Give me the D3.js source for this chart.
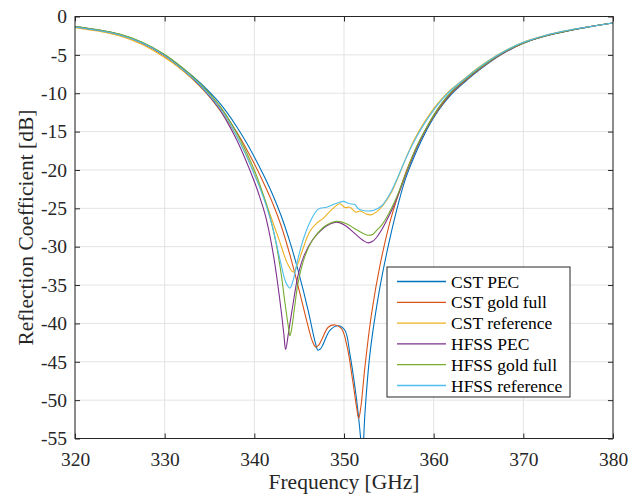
<!DOCTYPE html>
<html>
<head>
<meta charset="utf-8">
<script src="https://cdn.jsdelivr.net/npm/d3@7"></script>
<style>
  html, body { margin: 0; padding: 0; background: #fff; }
  svg { display: block; font-family: "Liberation Serif", "Times New Roman", Times, serif; }
  svg text { font-family: "Liberation Serif", "Times New Roman", Times, serif !important; }
</style>
</head>
<body>
<svg id="chart" width="639" height="496"></svg>
<script>
// Reflection coefficient (dB) vs frequency (GHz), six simulations
const xTicks = [320, 330, 340, 350, 360, 370, 380];
const yTicks = [0, -5, -10, -15, -20, -25, -30, -35, -40, -45, -50, -55];

const cstPecFreq = [320, 322.5, 325, 327.5, 330, 332, 334, 336, 337, 338, 339, 340, 341, 342, 343, 344, 345, 346, 346.5, 346.8, 347.1, 347.4, 347.68, 348.43, 349.35, 350.1, 350.66, 351.22, 351.59, 351.88, 352.05, 352.33, 352.89, 353.81, 354.75, 355.86, 356.79, 357.5, 358.3, 359, 360, 361, 362, 363.5, 365, 367.5, 370, 372.5, 375, 377.5, 380];
const cstPecDb   = [-1.35, -1.75, -2.35, -3.4, -5.0, -6.7, -8.7, -11.1, -12.6, -14.3, -16.2, -18.3, -20.6, -23.1, -26.0, -29.5, -33.6, -38.3, -41.0, -42.5, -43.5, -43.3, -42.7, -40.9, -40.3, -40.9, -44.0, -48.3, -51.8, -55.3, -58.0, -51.8, -44.0, -36.6, -30.9, -25.3, -21.4, -19.2, -17.0, -15.3, -13.2, -11.5, -10.1, -8.5, -7.05, -5.0, -3.5, -2.55, -1.87, -1.32, -0.85];

const cstGoldFreq = [320, 322.5, 325, 327.5, 330, 332, 334, 336, 337, 338, 339, 340, 341, 342, 343, 344, 345, 346, 346.5, 346.87, 347.2, 347.6, 348.24, 348.99, 349.73, 350.36, 350.96, 351.4, 351.63, 351.88, 352.33, 353.07, 354.0, 355.12, 356.0, 357.0, 358, 359, 360, 361, 362, 363.5, 365, 367.5, 370, 372.5, 375, 377.5, 380];
const cstGoldDb   = [-1.4, -1.8, -2.4, -3.5, -5.15, -6.9, -9.0, -11.6, -13.2, -15.0, -17.0, -19.2, -21.6, -24.2, -27.3, -31.2, -35.7, -40.4, -42.4, -43.1, -42.8, -41.9, -40.5, -40.2, -40.7, -43.1, -47.4, -50.9, -52.4, -50.9, -45.7, -38.75, -32.5, -26.8, -23.4, -20.0, -17.3, -15.0, -13.0, -11.35, -9.95, -8.4, -6.95, -4.95, -3.48, -2.52, -1.85, -1.3, -0.85];

const cstRefFreq = [320, 322.5, 325, 327.5, 330, 331.5, 333.2, 334.7, 336.2, 337.5, 338.5, 339.4, 340.2, 341, 341.7, 342.3, 342.85, 343.3, 343.78, 344.34, 344.8, 345.3, 346.2, 347.0, 347.68, 348.6, 349.54, 350.1, 350.66, 351.3, 351.8, 352.5, 353.0, 353.6, 354.3, 355.3, 356.2, 357, 357.9, 359, 360, 361, 362, 363.5, 365, 367.5, 370, 372.5, 375, 377.5, 380];
const cstRefDb   = [-1.45, -1.9, -2.55, -3.65, -5.35, -6.6, -8.3, -10.1, -12.3, -14.5, -16.6, -18.8, -21.0, -23.3, -25.6, -27.6, -29.4, -31.0, -32.4, -33.3, -32.4, -30.7, -28.0, -26.9, -26.3, -25.2, -24.4, -24.9, -24.85, -25.5, -25.35, -25.75, -25.85, -25.5, -24.7, -22.9, -20.5, -18.2, -15.9, -13.7, -12.0, -10.6, -9.45, -8.05, -6.65, -4.75, -3.35, -2.45, -1.8, -1.3, -0.85];

const hfssPecFreq = [320, 322.5, 325, 327.5, 330, 332, 334, 335, 336, 337, 338, 339, 340, 340.6, 341.2, 341.74, 342.2, 342.6, 343.04, 343.3, 343.49, 343.8, 344.3, 344.9, 345.6, 346.5, 347.68, 348.5, 349.17, 350.1, 351.03, 352.15, 352.7, 353.2, 353.63, 354.2, 354.75, 355.5, 356.23, 357.2, 358, 359, 360, 361, 362, 363.5, 365, 367.5, 370, 372.5, 375, 377.5, 380];
const hfssPecDb   = [-1.35, -1.75, -2.35, -3.45, -5.1, -6.9, -9.1, -10.4, -11.9, -13.8, -16.0, -18.6, -21.5, -23.5, -25.8, -28.6, -31.6, -34.8, -38.8, -41.5, -43.4, -41.3, -37.6, -33.6, -31.0, -29.1, -27.6, -27.0, -26.8, -27.2, -28.1, -29.2, -29.5, -29.3, -28.8, -27.8, -26.6, -24.8, -22.7, -19.7, -17.4, -15.0, -12.9, -11.2, -9.85, -8.3, -6.9, -4.9, -3.45, -2.5, -1.85, -1.3, -0.85];

const hfssGoldFreq = [320, 322.5, 325, 327.5, 330, 332, 334, 336, 337, 338, 339, 340, 340.7, 341.4, 342, 342.48, 343.0, 343.4, 343.78, 343.97, 344.15, 344.5, 344.9, 345.63, 346.57, 347.68, 348.5, 349.17, 350.28, 351.4, 352.63, 353.2, 353.63, 354.2, 354.75, 355.5, 356.23, 357.2, 358, 359, 360, 361, 362, 363.5, 365, 367.5, 370, 372.5, 375, 377.5, 380];
const hfssGoldDb   = [-1.3, -1.7, -2.3, -3.35, -4.95, -6.7, -8.8, -11.4, -13.1, -15.1, -17.4, -20.0, -22.2, -24.7, -27.3, -29.9, -33.6, -37.2, -40.3, -41.6, -40.8, -37.8, -34.6, -31.3, -29.0, -27.5, -26.9, -26.7, -27.0, -27.8, -28.5, -28.4, -27.9, -27.2, -26.2, -24.5, -22.5, -19.5, -17.2, -14.9, -12.85, -11.15, -9.8, -8.25, -6.85, -4.85, -3.45, -2.5, -1.85, -1.3, -0.85];

const hfssRefFreq = [320, 322.5, 325, 327.5, 330, 332, 334, 336, 337, 338, 339, 340, 340.7, 341.4, 342, 342.48, 343.0, 343.5, 343.97, 344.3, 344.9, 345.5, 346.2, 347.12, 348.06, 349.0, 349.54, 349.91, 350.66, 351.21, 351.59, 352.14, 353.25, 354.18, 355.12, 355.9, 356.6, 357.3, 358, 359, 360, 361, 362, 363.5, 365, 367.5, 370, 372.5, 375, 377.5, 380];
const hfssRefDb   = [-1.4, -1.8, -2.4, -3.45, -5.1, -6.9, -9.0, -11.7, -13.4, -15.5, -17.9, -20.6, -22.6, -24.9, -27.3, -29.7, -32.4, -34.6, -35.4, -34.5, -31.4, -28.9, -26.8, -25.1, -24.85, -24.4, -24.2, -24.1, -24.4, -24.5, -25.05, -25.28, -25.28, -24.7, -23.1, -21.2, -19.3, -17.5, -15.9, -13.9, -12.2, -10.75, -9.55, -8.1, -6.7, -4.78, -3.37, -2.45, -1.8, -1.3, -0.85];

const seriesNames  = ["CST PEC", "CST gold full", "CST reference", "HFSS PEC", "HFSS gold full", "HFSS reference"];
const seriesColors = ["#0072BD", "#D95319", "#EDB120", "#7E2F8E", "#77AC30", "#4DBEEE"];
const seriesFreqs  = [cstPecFreq, cstGoldFreq, cstRefFreq, hfssPecFreq, hfssGoldFreq, hfssRefFreq];
const seriesDbs    = [cstPecDb, cstGoldDb, cstRefDb, hfssPecDb, hfssGoldDb, hfssRefDb];

const svg = d3.select("#chart");
const plotLeft = 75, plotRight = 613, plotTop = 16.5, plotBottom = 438.5;

const x = d3.scaleLinear().domain([320, 380]).range([plotLeft, plotRight]);
const y = d3.scaleLinear().domain([-55, 0]).range([plotBottom, plotTop]);

const axisColor = "#262626";
const gridColor = "#e3e3e3";
const serif = '"Liberation Serif", "Times New Roman", Times, serif';

// grid
const grid = svg.append("g");
grid.selectAll("line.vx").data(xTicks).join("line")
  .attr("x1", d => x(d)).attr("x2", d => x(d))
  .attr("y1", plotTop).attr("y2", plotBottom)
  .attr("stroke", gridColor).attr("stroke-width", 1);
grid.selectAll("line.hy").data(yTicks).join("line")
  .attr("x1", plotLeft).attr("x2", plotRight)
  .attr("y1", d => y(d)).attr("y2", d => y(d))
  .attr("stroke", gridColor).attr("stroke-width", 1);

// curves
svg.append("defs").append("clipPath").attr("id", "plotClip")
  .append("rect").attr("x", plotLeft).attr("y", plotTop)
  .attr("width", plotRight - plotLeft).attr("height", plotBottom - plotTop);

const line = d3.line()
  .x(d => x(d[0])).y(d => y(d[1]))
  .curve(d3.curveCatmullRom.alpha(0.5));

const curves = svg.append("g").attr("clip-path", "url(#plotClip)");
seriesNames.forEach((name, i) => {
  const pts = d3.zip(seriesFreqs[i], seriesDbs[i]);
  curves.append("path")
    .datum(pts)
    .attr("d", line)
    .attr("fill", "none")
    .attr("stroke", seriesColors[i])
    .attr("stroke-width", 1.1);
});

// axes with inward ticks on all four sides
const tickLen = 5;
const xBottom = d3.axisBottom(x).tickValues(xTicks).tickSizeInner(-tickLen).tickSizeOuter(0).tickPadding(14);
const xTop = d3.axisTop(x).tickValues(xTicks).tickSizeInner(-tickLen).tickSizeOuter(0).tickFormat("");
const yLeft = d3.axisLeft(y).tickValues(yTicks).tickSizeInner(-tickLen).tickSizeOuter(0).tickPadding(8)
  .tickFormat(d => d === 0 ? "0" : "-" + Math.abs(d));
const yRight = d3.axisRight(y).tickValues(yTicks).tickSizeInner(-tickLen).tickSizeOuter(0).tickFormat("");

function styleAxis(g) {
  g.attr("font-family", serif).attr("font-size", 19.5);
  g.select(".domain").remove();
  g.selectAll("line").attr("stroke", axisColor).attr("stroke-width", 1);
  g.selectAll("text").attr("fill", axisColor)
    .attr("font-family", serif)
    .style("font-size", "19.5px");
}
svg.append("g").attr("transform", `translate(0,${plotBottom})`).call(xBottom).call(styleAxis);
svg.append("g").attr("transform", `translate(0,${plotTop})`).call(xTop).call(styleAxis);
svg.append("g").attr("transform", `translate(${plotLeft},0)`).call(yLeft).call(styleAxis);
svg.append("g").attr("transform", `translate(${plotRight},0)`).call(yRight).call(styleAxis);

// frame
svg.append("rect")
  .attr("x", plotLeft).attr("y", plotTop)
  .attr("width", plotRight - plotLeft).attr("height", plotBottom - plotTop)
  .attr("fill", "none").attr("stroke", axisColor).attr("stroke-width", 1);

// axis titles
svg.append("text")
  .attr("x", (plotLeft + plotRight) / 2).attr("y", 489)
  .attr("text-anchor", "middle")
  .attr("fill", axisColor)
  .style("font-size", "21.5px")
  .text("Frequency [GHz]");

svg.append("text")
  .attr("transform", `translate(33,${(plotTop + plotBottom) / 2}) rotate(-90)`)
  .attr("text-anchor", "middle")
  .attr("fill", axisColor)
  .style("font-size", "21.5px")
  .text("Reflection Coefficient [dB]");

// legend
const lg = svg.append("g");
const lgX = 387, lgY = 267, lgW = 183, lgH = 130, rowH = 20.8;
lg.append("rect")
  .attr("x", lgX).attr("y", lgY).attr("width", lgW).attr("height", lgH)
  .attr("fill", "#fff").attr("stroke", axisColor).attr("stroke-width", 1);
seriesNames.forEach((name, i) => {
  const cy = lgY + 14.5 + i * rowH;
  lg.append("line")
    .attr("x1", lgX + 10).attr("x2", lgX + 59)
    .attr("y1", cy).attr("y2", cy)
    .attr("stroke", seriesColors[i]).attr("stroke-width", 1.3);
  lg.append("text")
    .attr("x", lgX + 64).attr("y", cy + 6)
    .attr("fill", "#000")
    .style("font-size", "17.5px")
    .text(name);
});
</script>
</body>
</html>
